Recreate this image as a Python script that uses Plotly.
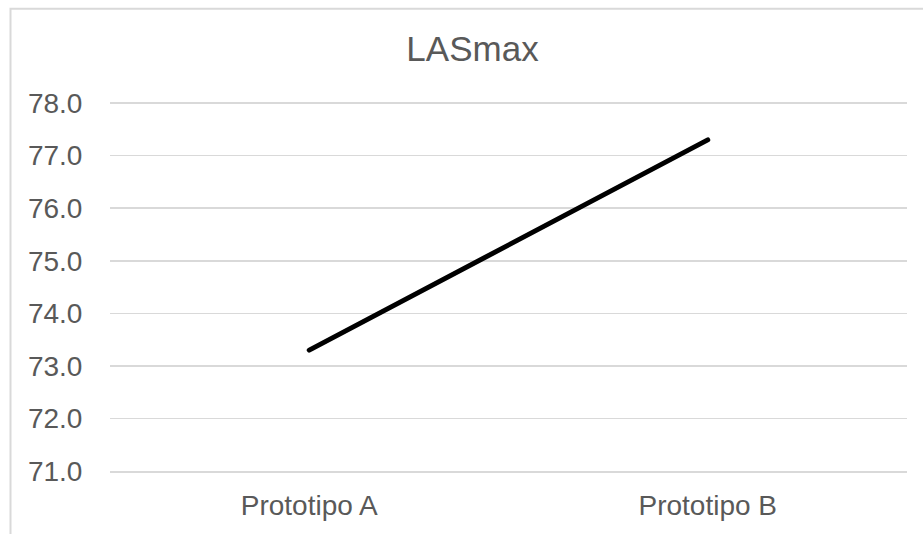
import plotly.graph_objects as go

categories = ["Prototipo A", "Prototipo B"]
values = [73.3, 77.3]
title_text = "LASmax"
y_ticks = [71, 72, 73, 74, 75, 76, 77, 78]

W, H = 923, 534
y_top = 78.04
unit = (471 - 103) / 7.0
L, R, B = 110, 16, 63
T = 103 - (y_top - 78) * unit
pw, ph = W - L - R, H - T - B

fig = go.Figure()
fig.add_trace(go.Scatter(
    x=[0, 1], y=values, mode="lines",
    line=dict(color="#000000", width=5),
    hoverinfo="skip", showlegend=False,
))

grey_txt = "#595959"
grid = "#d9d9d9"
font_family = "Liberation Sans, Arial, sans-serif"

fig.update_layout(
    width=W, height=H,
    margin=dict(l=L, r=R, t=T, b=B, pad=0),
    paper_bgcolor="white", plot_bgcolor="white",
    font=dict(family=font_family, color=grey_txt, size=28),
    title=dict(text=title_text, x=472.5 / W, xanchor="center",
               y=1 - 49 / H, yanchor="middle",
               font=dict(size=35, color=grey_txt, family=font_family)),
    showlegend=False,
)
fig.update_xaxes(
    range=[-0.5, 1.5], tickvals=[0, 1], ticktext=categories,
    showgrid=False, showline=True, linecolor=grid, linewidth=1.5,
    ticks="outside", ticklen=9, tickcolor="rgba(0,0,0,0)",
    tickfont=dict(size=28, color=grey_txt), zeroline=False, automargin=False,
)
fig.update_yaxes(
    range=[71, y_top], tickvals=y_ticks, tickformat=".1f",
    showgrid=True, gridcolor=grid, gridwidth=1.5, zeroline=False, showline=False,
    ticks="outside", ticklen=21, tickcolor="rgba(0,0,0,0)",
    tickfont=dict(size=28, color=grey_txt), automargin=False,
)

# chart-area border (left and top edges visible in the crop)
bx = (10.5 - L) / pw
by = 1 + (T - 8.5) / ph
fig.add_shape(type="rect", xref="paper", yref="paper",
              x0=bx, x1=1.2, y0=-0.5, y1=by,
              line=dict(color=grid, width=2), fillcolor="rgba(0,0,0,0)", layer="below")

fig.write_html(
    "out.html",
    config={"displayModeBar": False, "staticPlot": True},
    post_script="document.body.style.margin='0';document.body.style.padding='0';"
                "document.body.style.overflow='hidden';"
                "document.querySelectorAll('.scatterlayer path.js-line').forEach(function(p){p.style.strokeLinecap='round';});",
)
